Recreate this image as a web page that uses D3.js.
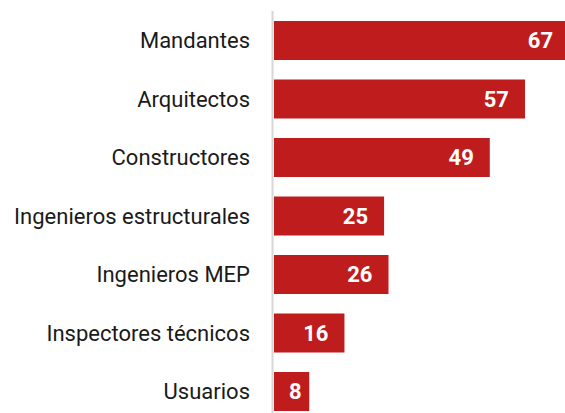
<!DOCTYPE html>
<html>
<head>
<meta charset="utf-8">
<script src="https://cdn.jsdelivr.net/npm/d3@7"></script>
<style>
  body { margin: 0; background: #fff; }
  text { font-family: "Roboto", "Noto Sans", sans-serif; }
</style>
</head>
<body>
<div id="bar1"></div>
<script>
// data
const categories = ["Mandantes", "Arquitectos", "Constructores", "Ingenieros estructurales",
                    "Ingenieros MEP", "Inspectores técnicos", "Usuarios"];
const counts = [67, 57, 49, 25, 26, 16, 8];

const width = 565, height = 413;
const margin = {top: 21, right: 0, bottom: 2, left: 274};

let svg = d3.select("#bar1")
    .append("svg")
    .attr("width", width)
    .attr("height", height);

let data = categories.map((c, i) => ({word: c, count: counts[i]}));

// x: count, ~4.4px per unit
let x = d3.scaleLinear()
    .domain([0, 57])
    .range([margin.left, 525]);

// y: categories
let y = d3.scaleBand()
    .domain(categories)
    .range([margin.top, height - margin.bottom])
    .paddingInner(1 / 3)
    .paddingOuter(0);

// bars
svg.selectAll("rect")
    .data(data)
    .enter()
    .append("rect")
    .attr("x", x(0))
    .attr("y", d => y(d.word))
    .attr("width", d => x(d.count) - x(0))
    .attr("height", y.bandwidth())
    .attr("fill", "#bf1c1d");

// thin vertical baseline
svg.append("line")
    .attr("x1", x(0) - 1.5).attr("x2", x(0) - 1.5)
    .attr("y1", 11).attr("y2", height)
    .attr("stroke", "#d6d6d6")
    .attr("stroke-width", 2);

// category labels
svg.append("g")
    .selectAll("text")
    .data(data)
    .enter()
    .append("text")
    .attr("x", x(0) - 24)
    .attr("y", d => y(d.word) + y.bandwidth() / 2)
    .attr("dy", "0.35em")
    .style("text-anchor", "end")
    .style("font-size", "22px")
    .attr("fill", "#1a1a1a")
    .text(d => d.word);

// value labels inside the bars
let vals = svg.append("g")
    .selectAll("text")
    .data(data)
    .enter()
    .append("text")
    .attr("y", d => y(d.word) + y.bandwidth() / 2)
    .attr("dy", "0.36em")
    .style("text-anchor", "end")
    .style("font-size", "22px")
    .style("font-weight", "bold")
    .attr("fill", "#fff")
    .text(d => d.count);

// right edge 16px in from bar end, but keep at least 15px from the bar start
vals.attr("x", function(d) {
    let w = this.getComputedTextLength();
    return Math.max(x(d.count) - 16, x(0) + 15 + w);
});
</script>
</body>
</html>
